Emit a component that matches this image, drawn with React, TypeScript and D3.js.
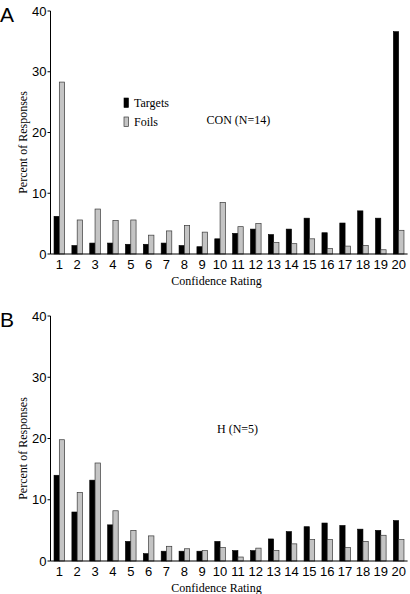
import React from "react";
import * as d3 from "d3";

const ratings = d3.range(1, 21).map(String);
const yTicks = [0, 10, 20, 30, 40];

const conTargets = [6.2, 1.4, 1.8, 1.8, 1.6, 1.6, 1.8, 1.4, 1.2, 2.5, 3.4, 4.1, 3.2, 4.1, 5.9, 3.5, 5.1, 7.1, 5.9, 36.6];
const conFoils = [28.3, 5.6, 7.4, 5.5, 5.6, 3.1, 3.8, 4.7, 3.6, 8.5, 4.5, 5.0, 1.9, 1.7, 2.5, 0.9, 1.3, 1.4, 0.7, 3.9];

const hTargets = [14.0, 8.0, 13.2, 5.9, 3.2, 1.2, 1.6, 1.6, 1.6, 3.2, 1.7, 1.7, 3.6, 4.8, 5.6, 6.2, 5.8, 5.2, 5.0, 6.6];
const hFoils = [19.8, 11.2, 16.0, 8.2, 5.0, 4.1, 2.4, 2.0, 1.7, 2.2, 0.65, 2.1, 1.7, 2.8, 3.5, 3.5, 2.2, 3.2, 4.2, 3.5];

const SANS = "'Liberation Sans', Arial, sans-serif";
const SERIF = "'Liberation Serif', 'Times New Roman', serif";
const FOIL_FILL = "#c4c4c4";
const FOIL_STROKE = "#3a3a3a";

const x = d3.scaleBand<string>().domain(ratings).range([50.4, 407.6]).padding(0);
const barW = 5.3;

type PanelProps = {
  letter: string;
  top: number;
  bottom: number;
  targets: number[];
  foils: number[];
  groupLabel: string;
  groupX: number;
  groupY: number;
  legend: boolean;
};

function Panel({ letter, top, bottom, targets, foils, groupLabel, groupX, groupY, legend }: PanelProps) {
  const y = d3.scaleLinear().domain([0, 40]).range([bottom, top]);
  const axisX = 50.5;
  return (
    <g>
      <text x={0} y={top + 11} fontFamily={SANS} fontSize={21} fill="#000">{letter}</text>
      {ratings.map((r, i) => {
        const cx = (x(r) as number) + x.bandwidth() / 2;
        return (
          <g key={r}>
            <rect x={cx - barW} y={y(targets[i])} width={barW} height={bottom - y(targets[i])} fill="#000" stroke="#000" strokeWidth={0.6} />
            <rect x={cx} y={y(foils[i])} width={barW} height={bottom - y(foils[i])} fill={FOIL_FILL} stroke={FOIL_STROKE} strokeWidth={0.7} />
            <text x={cx} y={bottom + 15} textAnchor="middle" fontFamily={SANS} fontSize={13} fill="#000">{r}</text>
          </g>
        );
      })}
      <line x1={axisX} x2={axisX} y1={y(40)} y2={bottom} stroke="#000" strokeWidth={1} />
      <line x1={axisX} x2={407.6} y1={bottom} y2={bottom} stroke="#000" strokeWidth={1} />
      {yTicks.map((t) => (
        <g key={t}>
          <line x1={axisX - 3} x2={axisX} y1={y(t)} y2={y(t)} stroke="#000" strokeWidth={1} />
          <text x={axisX - 4} y={y(t) + 4.6} textAnchor="end" fontFamily={SANS} fontSize={13} fill="#000">{t}</text>
        </g>
      ))}
      <text x={216.5} y={bottom + 31} textAnchor="middle" fontFamily={SERIF} fontSize={12} fill="#000">Confidence Rating</text>
      <text transform={`translate(27, ${(top + bottom) / 2 + 10}) rotate(-90)`} textAnchor="middle" fontFamily={SERIF} fontSize={12} fill="#000">Percent of Responses</text>
      <text x={groupX} y={groupY} fontFamily={SERIF} fontSize={12} fill="#000">{groupLabel}</text>
      {legend && (
        <g>
          <rect x={124} y={98} width={4.5} height={9.5} fill="#000" stroke="#000" strokeWidth={0.6} />
          <text x={134} y={107} fontFamily={SERIF} fontSize={12} fill="#000">Targets</text>
          <rect x={124} y={117} width={4.5} height={9.5} fill={FOIL_FILL} stroke={FOIL_STROKE} strokeWidth={0.7} />
          <text x={134} y={126} fontFamily={SERIF} fontSize={12} fill="#000">Foils</text>
        </g>
      )}
    </g>
  );
}

export default function App() {
  return (
    <svg width={410} height={594} style={{ position: "absolute", left: 0, top: 0, background: "#fff" }}>
      <rect width={410} height={594} fill="#fff" />
      <Panel letter="A" top={11} bottom={254} targets={conTargets} foils={conFoils} groupLabel="CON (N=14)" groupX={206.5} groupY={124} legend={true} />
      <Panel letter="B" top={316} bottom={561} targets={hTargets} foils={hFoils} groupLabel="H (N=5)" groupX={217} groupY={433} legend={false} />
    </svg>
  );
}
